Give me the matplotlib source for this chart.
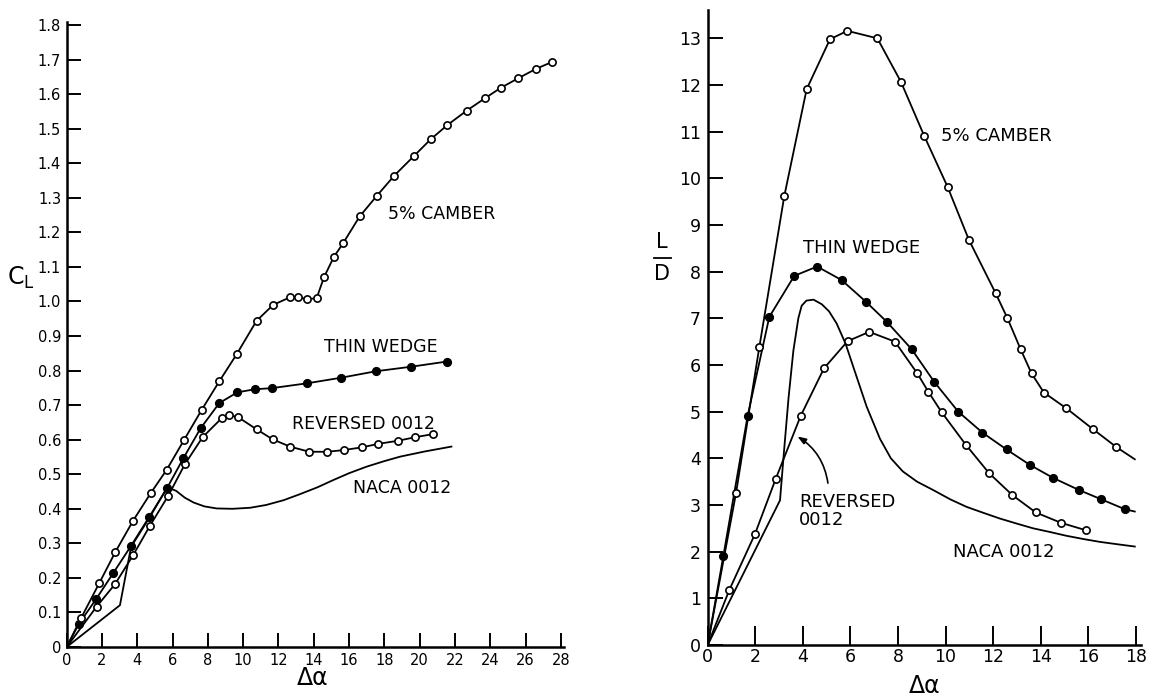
import matplotlib
matplotlib.use("Agg")
import matplotlib.pyplot as plt
from matplotlib.lines import Line2D

# ---- lift coefficient vs delta alpha ----
cl_camber_da = [0, 0.81, 1.85, 2.76, 3.77, 4.76, 5.67, 6.65, 7.66, 8.65, 9.63, 10.76, 11.7,
                12.65, 13.12, 13.6, 14.16, 14.58, 15.14, 15.67, 16.6, 17.58, 18.56, 19.68,
                20.62, 21.56, 22.66, 23.7, 24.59, 25.59, 26.59, 27.5]
cl_camber = [0, 0.083, 0.185, 0.275, 0.366, 0.445, 0.513, 0.599, 0.687, 0.769, 0.847, 0.944,
             0.990, 1.012, 1.012, 1.007, 1.009, 1.070, 1.129, 1.169, 1.246, 1.306, 1.364,
             1.421, 1.469, 1.510, 1.552, 1.588, 1.618, 1.646, 1.673, 1.693]

cl_wedge_da = [0, 0.68, 1.66, 2.64, 3.64, 4.66, 5.68, 6.61, 7.59, 8.65, 9.67, 10.67, 11.61,
               13.6, 15.52, 17.52, 19.5, 21.53]
cl_wedge = [0, 0.066, 0.138, 0.214, 0.292, 0.375, 0.459, 0.546, 0.633, 0.706, 0.737, 0.746,
            0.749, 0.763, 0.779, 0.798, 0.811, 0.826]

cl_rev_da = [0, 1.70, 2.74, 3.77, 4.72, 5.76, 6.70, 7.70, 8.78, 9.21, 9.72, 10.76, 11.67,
             12.65, 13.75, 14.77, 15.71, 16.75, 17.66, 18.79, 19.73, 20.74]
cl_rev = [0, 0.117, 0.182, 0.266, 0.351, 0.438, 0.529, 0.607, 0.662, 0.671, 0.665, 0.630,
          0.601, 0.580, 0.565, 0.565, 0.570, 0.578, 0.588, 0.597, 0.607, 0.616]

cl_naca_da = [0, 3.02, 3.65, 4.7, 5.7, 6.2, 6.7, 7.2, 7.8, 8.5, 9.4, 10.4, 11.3, 12.3,
              13.2, 14.2, 15.1, 16.0, 17.0, 18.0, 18.9, 20.3, 21.8]
cl_naca = [0, 0.121, 0.290, 0.375, 0.462, 0.452, 0.432, 0.418, 0.407, 0.401, 0.400, 0.403,
           0.411, 0.425, 0.442, 0.462, 0.483, 0.503, 0.522, 0.538, 0.551, 0.566, 0.580]

cl_ticks_x = list(range(0, 29, 2))
cl_ticks_y = [0.0, 0.1, 0.2, 0.3, 0.4, 0.5, 0.6, 0.7, 0.8, 0.9, 1.0, 1.1, 1.2, 1.3, 1.4,
              1.5, 1.6, 1.7, 1.8]
cl_tick_labels_y = ["0", "0.1", "0.2", "0.3", "0.4", "0.5", "0.6", "0.7", "0.8", "0.9",
                    "1.0", "1.1", "1.2", "1.3", "1.4", "1.5", "1.6", "1.7", "1.8"]

# ---- lift / drag vs delta alpha ----
ld_camber_da = [0, 1.19, 2.17, 3.22, 4.16, 5.14, 5.87, 7.13, 8.12, 9.10, 10.08, 10.98, 12.1,
                12.6, 13.15, 13.61, 14.13, 15.08, 16.18, 17.18, 17.95]
ld_camber = [0, 3.25, 6.38, 9.62, 11.91, 12.98, 13.16, 13.0, 12.07, 10.91, 9.82, 8.68, 7.54,
             7.0, 6.34, 5.82, 5.41, 5.07, 4.63, 4.24, 3.98]
ld_camber_pts = 20  # last entry is the curve end, not a test point

ld_wedge_da = [0, 0.66, 1.68, 2.59, 3.64, 4.6, 5.63, 6.64, 7.52, 8.57, 9.52, 10.53, 11.55,
               12.56, 13.54, 14.52, 15.61, 16.55, 17.53, 17.95]
ld_wedge = [0, 1.91, 4.91, 7.03, 7.91, 8.11, 7.82, 7.36, 6.93, 6.34, 5.64, 5.0, 4.55, 4.19,
            3.86, 3.58, 3.32, 3.12, 2.91, 2.86]
ld_wedge_pts = 19

ld_rev_da = [0, 0.91, 1.99, 2.86, 3.91, 4.89, 5.88, 6.79, 7.87, 8.81, 9.27, 9.83, 10.85,
             11.83, 12.81, 13.79, 14.84, 15.89]
ld_rev = [0, 1.18, 2.38, 3.56, 4.91, 5.93, 6.51, 6.71, 6.50, 5.82, 5.43, 4.99, 4.29, 3.68,
          3.21, 2.84, 2.62, 2.46]

ld_naca_da = [0, 3.04, 3.2, 3.4, 3.6, 3.81, 3.95, 4.15, 4.45, 4.8, 5.1, 5.42, 5.8, 6.12,
              6.68, 7.24, 7.7, 8.2, 8.8, 9.48, 10.2, 10.88, 11.6, 12.28, 13.0, 13.68, 14.4,
              15.08, 15.8, 16.48, 17.2, 17.95]
ld_naca = [0, 3.1, 4.1, 5.3, 6.3, 7.0, 7.27, 7.38, 7.40, 7.3, 7.15, 6.89, 6.45, 5.96, 5.11,
           4.42, 4.0, 3.72, 3.5, 3.32, 3.12, 2.96, 2.83, 2.71, 2.60, 2.50, 2.42, 2.34,
           2.27, 2.21, 2.16, 2.11]

ld_ticks_x = list(range(0, 19, 2))
ld_ticks_y = list(range(0, 14))

plt.rcParams["font.family"] = ["DejaVu Sans"]

fig = plt.figure(figsize=(11.49, 6.97), dpi=100)
ax1 = fig.add_axes([0.058, 0.0717, 0.4332, 0.8974])
ax2 = fig.add_axes([0.6159, 0.0746, 0.3769, 0.9106])

open_mk = dict(marker="o", markersize=5.2, markerfacecolor="white",
               markeredgecolor="black", markeredgewidth=1.2)
full_mk = dict(marker="o", markersize=5.6, markerfacecolor="black",
               markeredgecolor="black")
lw = 1.3

# left panel
ax1.plot(cl_naca_da, cl_naca, color="black", lw=lw)
ax1.plot(cl_rev_da, cl_rev, color="black", lw=lw, **open_mk, markevery=slice(1, None))
ax1.plot(cl_wedge_da, cl_wedge, color="black", lw=lw, **full_mk, markevery=slice(1, None))
ax1.plot(cl_camber_da, cl_camber, color="black", lw=lw, **open_mk, markevery=slice(1, None))

ax1.set_xlim(0, 28.2)
ax1.set_ylim(0, 1.81)
ax1.set_xticks(cl_ticks_x)
ax1.set_yticks(cl_ticks_y)
ax1.set_yticklabels(cl_tick_labels_y)
ax1.tick_params(direction="in", length=10, width=1.4, labelsize=10.5, pad=4)

lab = dict(fontsize=12.5, ha="left", va="center")
ax1.text(18.22, 1.252, "5% CAMBER", **lab)
ax1.text(14.58, 0.867, "THIN WEDGE", **lab)
ax1.text(12.75, 0.644, "REVERSED 0012", **lab)
ax1.text(16.22, 0.460, "NACA 0012", **lab)

ax1.text(0.494, -0.05, "Δα", transform=ax1.transAxes, fontsize=17,
         ha="center", va="center")
ax1.text(-0.092, 0.59, r"$\mathregular{C_L}$", transform=ax1.transAxes, fontsize=17,
         ha="center", va="center")

# right panel
ax2.plot(ld_naca_da, ld_naca, color="black", lw=lw)
ax2.plot(ld_rev_da, ld_rev, color="black", lw=lw, **open_mk, markevery=slice(1, None))
ax2.plot(ld_wedge_da, ld_wedge, color="black", lw=lw, **full_mk,
         markevery=slice(1, ld_wedge_pts))
ax2.plot(ld_camber_da, ld_camber, color="black", lw=lw, **open_mk,
         markevery=slice(1, ld_camber_pts))

ax2.set_xlim(0, 18.2)
ax2.set_ylim(0, 13.6)
ax2.set_xticks(ld_ticks_x)
ax2.set_yticks(ld_ticks_y)
ax2.tick_params(axis="x", direction="in", length=14, width=1.4, labelsize=12.5, pad=2)
ax2.tick_params(axis="y", direction="in", length=11, width=1.4, labelsize=12.5, pad=5)

lab2 = dict(fontsize=13, ha="left", va="center")
ax2.text(9.80, 10.91, "5% CAMBER", **lab2)
ax2.text(4.02, 8.50, "THIN WEDGE", **lab2)
ax2.text(3.85, 2.87, "REVERSED\n0012", linespacing=1.05, **lab2)
ax2.text(10.32, 2.0, "NACA 0012", **lab2)
# curved pointer from the label up to the reversed-section curve
ax2.annotate("", xy=(3.67, 4.5), xytext=(5.07, 3.41),
             arrowprops=dict(arrowstyle="-|>,head_length=0.5,head_width=0.18",
                             color="black", lw=1.2,
                             connectionstyle="arc3,rad=0.25"))

ax2.text(0.502, -0.065, "Δα", transform=ax2.transAxes, fontsize=17,
         ha="center", va="center")
ax2.text(-0.105, 0.635, "L", transform=ax2.transAxes, fontsize=15,
         ha="center", va="center")
ax2.text(-0.105, 0.585, "D", transform=ax2.transAxes, fontsize=15,
         ha="center", va="center")
ax2.add_line(Line2D([-0.125, -0.085], [0.61, 0.61], transform=ax2.transAxes,
                    color="black", lw=1.3, clip_on=False))

for ax in (ax1, ax2):
    ax.spines["top"].set_visible(False)
    ax.spines["right"].set_visible(False)
    ax.spines["left"].set_linewidth(1.8)
    ax.spines["bottom"].set_linewidth(1.8)

fig.savefig("out.png", dpi=100)
